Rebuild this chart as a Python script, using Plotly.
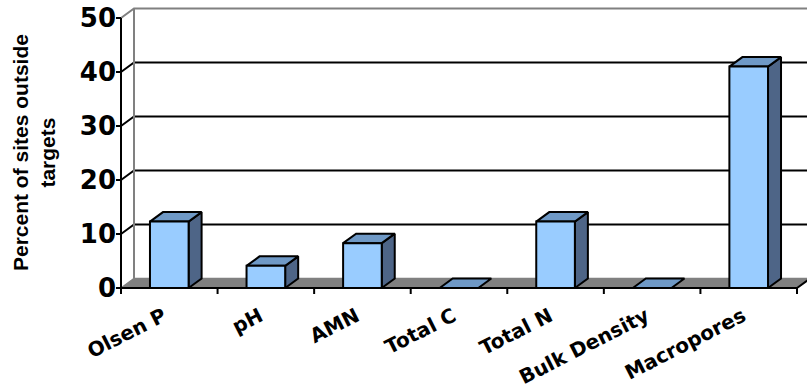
import plotly.graph_objects as go

# Data
categories = ["Olsen P", "pH", "AMN", "Total C", "Total N", "Bulk Density", "Macropores"]
values = [12.3, 4.1, 8.3, 0, 12.3, 0, 41]
y_ticks = [0, 10, 20, 30, 40, 50]

# Figure / axis geometry (pixels)
W, H = 807, 388
M_L, M_T, M_B, M_R = 114, 5, 92, 0
PX_CAT = 96.57       # pixels per category
PX_UNIT = 5.4        # pixels per percent
FRONT_X0 = 121       # pixel x of the front-left corner
FRONT_Y0 = 288       # pixel y of the front floor edge

plot_w = W - M_L - M_R
plot_h = H - M_T - M_B
x0 = -0.5 - (FRONT_X0 - M_L) / PX_CAT
x_range = [x0, x0 + plot_w / PX_CAT]
y0 = -((H - M_B) - FRONT_Y0) / PX_UNIT
y_range = [y0, y0 + plot_h / PX_UNIT]

# 3-D depth offsets in data units
DX = 13 / PX_CAT
DY = 9.5 / PX_UNIT
BW = 0.4                      # bar width (category units)
n = len(categories)
left, right = -0.5, n - 0.5
ymax = max(y_ticks)

FRONT = "#99CCFF"
TOP = "#6F99C6"
SIDE = "#4E6587"
FLOOR = "#808080"
WALL = "#808080"

fig = go.Figure()


def poly(xs, ys, fill, line_color="black", width=2):
    fig.add_trace(go.Scatter(
        x=xs + [xs[0]], y=ys + [ys[0]], mode="lines", fill="toself",
        fillcolor=fill, line=dict(color=line_color, width=width),
        hoverinfo="skip", showlegend=False))


def seg(xs, ys, color="black", width=2):
    fig.add_trace(go.Scatter(
        x=xs, y=ys, mode="lines", line=dict(color=color, width=width),
        hoverinfo="skip", showlegend=False))


# Floor
poly([left, right, right + DX, left + DX], [0, 0, DY, DY], FLOOR, FLOOR, 1.5)
seg([left, right], [0, 0])
seg([right, right + DX], [0, DY])

# Back wall gridlines (with the short receding segment from the front axis)
for v in y_ticks[1:]:
    col = WALL if v == ymax else "black"
    seg([left, left + DX, x_range[1]], [v, v + DY, v + DY], col)
# Back wall left edge
seg([left + DX, left + DX], [DY, ymax + DY], WALL)

# Front value axis with tick marks
seg([left, left], [0, ymax])
for v in y_ticks:
    seg([left - 5 / PX_CAT, left], [v, v])
# Category boundary tick marks
for b in range(n + 1):
    xb = b - 0.5
    seg([xb, xb], [0, -6 / PX_UNIT])

# Bars: side, top and front faces
for i, v in enumerate(values):
    xl, xr = i - BW / 2, i + BW / 2
    if v > 0:
        poly([xr, xr + DX, xr + DX, xr], [0, DY, v + DY, v], SIDE)
    poly([xl, xr, xr + DX, xl + DX], [v, v, v + DY, v + DY], TOP)
    if v > 0:
        poly([xl, xr, xr, xl], [0, 0, v, v], FRONT)

fig.update_layout(
    width=W, height=H,
    margin=dict(l=M_L, r=M_R, t=M_T, b=M_B),
    paper_bgcolor="white", plot_bgcolor="white",
    xaxis=dict(
        range=x_range, tickmode="array", tickvals=list(range(n)),
        ticktext=categories, tickangle=-27, ticks="",
        ticklabelshift=-6, ticklabelstandoff=4,
        showgrid=False, zeroline=False, showline=False,
        tickfont=dict(family="DejaVu Sans", size=20, color="black", weight="bold"),
    ),
    yaxis=dict(
        range=y_range, tickmode="array", tickvals=y_ticks, ticks="",
        showgrid=False, zeroline=False, showline=False,
        ticklabelstandoff=-3,
        tickfont=dict(family="DejaVu Sans", size=26, color="black", weight="bold"),
    ),
    annotations=[dict(
        text="Percent of sites outside<br>targets", textangle=-90,
        xref="paper", yref="paper",
        x=(34 - M_L) / plot_w, y=((H - M_B) - 153) / plot_h,
        xanchor="center", yanchor="middle", showarrow=False,
        font=dict(family="Liberation Sans", size=21, color="black", weight="bold"),
    )],
)

fig.write_html("out.html")
